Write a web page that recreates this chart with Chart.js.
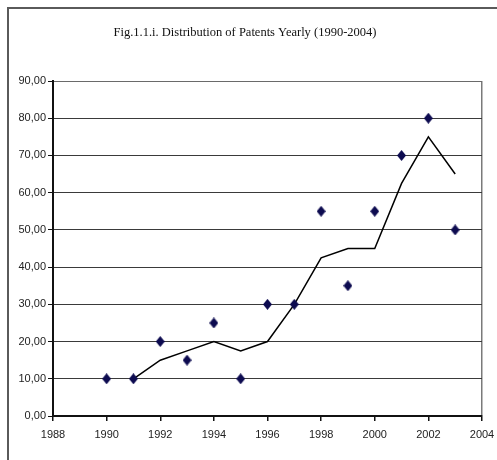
<!DOCTYPE html>
<html>
<head>
<meta charset="utf-8">
<script src="https://cdn.jsdelivr.net/npm/chart.js@4"></script>
<style>
  html, body { margin: 0; padding: 0; background: #fff; overflow: hidden; }
  #frame { position: absolute; left: 7px; top: 7px; width: 520px; height: 480px; border: 2px solid #5a5a5a; border-right-color: #888; }
  #wrap { position: absolute; left: 0; top: 0; width: 497px; height: 460px; }
</style>
</head>
<body>
<div id="frame"></div>
<div id="wrap"><canvas id="patentChart" width="497" height="460"></canvas></div>
<script>
// yearly patent counts (markers)
const years = [1990, 1991, 1992, 1993, 1994, 1995, 1996, 1997, 1998, 1999, 2000, 2001, 2002, 2003];
const patents = [10, 10, 20, 15, 25, 10, 30, 30, 55, 35, 55, 70, 80, 50];

// trend line
const trendYears = [1991, 1992, 1993, 1994, 1995, 1996, 1997, 1998, 1999, 2000, 2001, 2002, 2003];
const trendValues = [10, 15, 17.5, 20, 17.5, 20, 30, 42.5, 45, 45, 62.5, 75, 65];

const xTicks = [1988, 1990, 1992, 1994, 1996, 1998, 2000, 2002, 2004];
const yTicks = [0, 10, 20, 30, 40, 50, 60, 70, 80, 90];

// diamond marker, a bit taller than wide
const diamond = document.createElement('canvas');
diamond.width = 9;
diamond.height = 11;
const dctx = diamond.getContext('2d');
dctx.fillStyle = '#0d0b50';
dctx.beginPath();
dctx.moveTo(4.5, 0);
dctx.lineTo(9, 5.5);
dctx.lineTo(4.5, 11);
dctx.lineTo(0, 5.5);
dctx.closePath();
dctx.fill();

const tickFont = { family: '"Liberation Sans", Arial, sans-serif', size: 11 };

new Chart(document.getElementById('patentChart'), {
  type: 'scatter',
  data: {
    datasets: [
      {
        label: 'Patents',
        data: years.map((y, i) => ({ x: y, y: patents[i] })),
        pointStyle: diamond,
        pointRadius: 5,
        backgroundColor: '#0d0b50',
        borderColor: '#0d0b50',
      },
      {
        type: 'line',
        label: 'Trend',
        data: trendYears.map((y, i) => ({ x: y, y: trendValues[i] })),
        borderColor: '#000',
        borderWidth: 1.5,
        pointRadius: 0,
        tension: 0,
        fill: false,
      },
    ],
  },
  options: {
    responsive: false,
    animation: false,
    layout: { padding: { left: 8, right: 15, top: 0, bottom: 0 } },
    plugins: {
      legend: { display: false },
      tooltip: { enabled: false },
      title: {
        display: true,
        text: 'Fig.1.1.i. Distribution of Patents Yearly (1990-2004)',
        color: '#111',
        font: { family: '"Liberation Serif", "Times New Roman", serif', size: 12.5, weight: 'normal' },
        padding: { top: 25, bottom: 41 },
      },
    },
    scales: {
      x: {
        type: 'linear',
        min: 1988,
        max: 2004,
        afterBuildTicks: (scale) => { scale.ticks = xTicks.map((v) => ({ value: v })); },
        afterFit: (scale) => {
          scale.height = 44;
          scale.paddingLeft = 0;
          scale.paddingRight = 0;
        },
        ticks: {
          color: '#222',
          font: tickFont,
          padding: 7,
          maxRotation: 0,
          callback: (v) => String(v),
        },
        grid: {
          color: (ctx) => (ctx.tick && ctx.tick.value === 2004 ? '#7a7a7a' : 'transparent'),
          lineWidth: 1.5,
          tickColor: '#111',
          tickLength: 5,
          drawTicks: true,
        },
        border: { color: '#111', width: 2 },
      },
      y: {
        min: 0,
        max: 90,
        afterBuildTicks: (scale) => { scale.ticks = yTicks.map((v) => ({ value: v })); },
        afterFit: (scale) => { scale.width = 45; },
        ticks: {
          color: '#222',
          font: tickFont,
          padding: 2,
          callback: (v) => v.toFixed(2).replace('.', ','),
        },
        grid: {
          color: (ctx) => (ctx.tick && ctx.tick.value === 90 ? '#6a6a6a' : '#3a3a3a'),
          lineWidth: 1,
          tickColor: '#111',
          tickLength: 5,
        },
        border: { color: '#111', width: 2 },
      },
    },
  },
});
</script>
</body>
</html>
